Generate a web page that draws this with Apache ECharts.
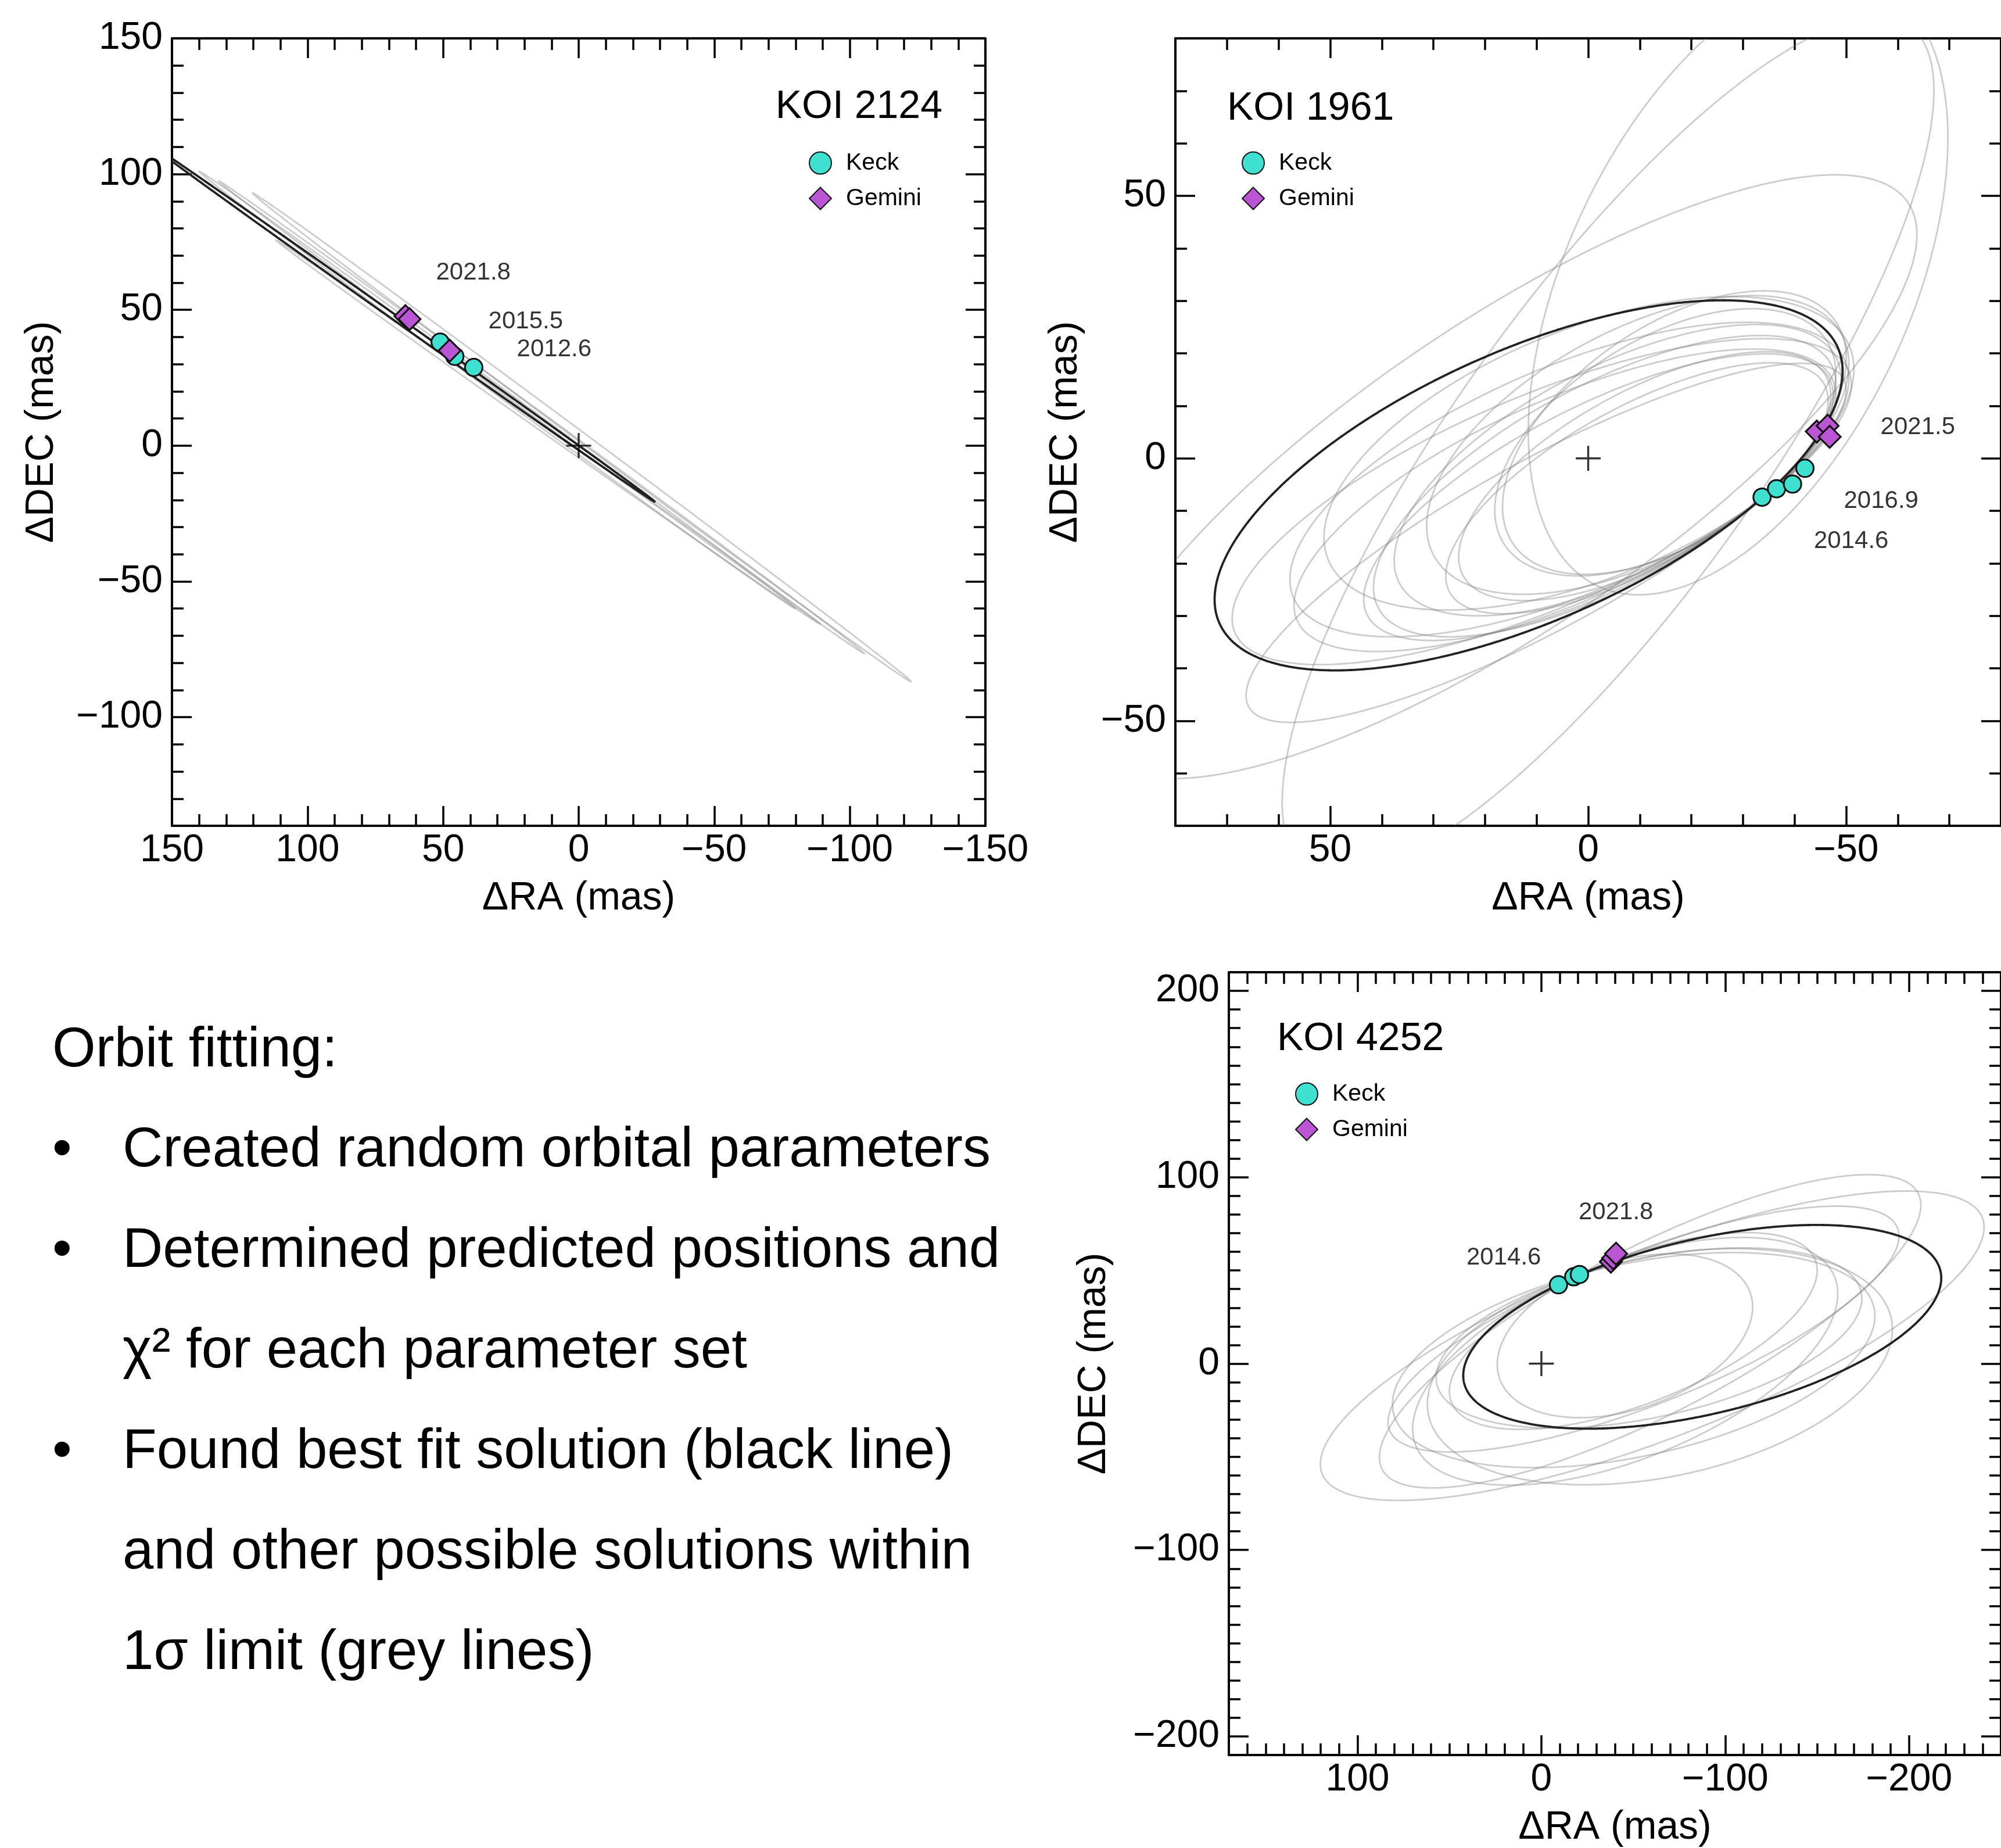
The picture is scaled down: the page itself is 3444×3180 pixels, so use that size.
<!DOCTYPE html>
<html>
<head>
<meta charset="utf-8">
<title>Orbit fitting</title>
<script src="https://cdn.jsdelivr.net/npm/echarts@6/dist/echarts.min.js"></script>
<style>
  html, body { margin: 0; padding: 0; background: #fff; }
  #chart { width: 3444px; height: 3180px; }
</style>
</head>
<body>
<div id="chart"></div>
<script>
// values, in mas
// an orbit is [dRA, dDEC of the max-dRA point, dRA, dDEC of the min-dRA point, max dDEC]

// KOI 2124
var koi2124Best = [[160, 112.3, -28, -20.6, 112.311]];
var koi2124Grey = [
  [120.3, 93.0, -122.6, -86.9, 93.027],
  [132.8, 97.5, -105.4, -76.6, 97.519],
  [111.7, 75.7, -89.1, -65.7, 75.716],
  [140, 101, -80, -60, 101.025]
];
var koi2124Keck = [[51.1, 38.1], [45.7, 32.9], [38.7, 28.8]];
var koi2124Gemini = [[63.9, 47.7], [62.4, 46.6], [47.6, 35.0]];
var koi2124Epochs = [[52.5, 63.6], [33.2, 45.6], [22.7, 35.3]];
var koi2124EpochNames = ['2021.8', '2015.5', '2012.6'];

// KOI 1961
var koi1961Best = [[72.4, -26.9, -49.3, 16.6, 30.1]];
var koi1961Grey = [
  [11.6, 5, -69.7, 61, 92],
  [96.3, -49.6, -63.7, 42.6, 54],
  [59.3, -65.5, -67, 70, 84],
  [69, -30.5, -51, 14, 22.8],
  [66.3, -45.2, -50, 13, 18.1],
  [57.8, -23.1, -50.5, 15, 25.9],
  [57, -28, -48, 12, 20.8],
  [51.2, -15.1, -51.5, 17, 30.8],
  [43.5, -26.8, -47.5, 12, 19.9],
  [41.6, -24.6, -48, 14, 23.4],
  [37.6, -19.5, -49, 15, 25.5],
  [31.3, -12.9, -50.5, 18, 31.0],
  [27.6, -22.4, -46.5, 11, 18.2],
  [25.1, -18.8, -47, 12, 20.3],
  [18.1, -9.9, -48, 16, 28.5],
  [16.6, -9.2, -50, 19, 31.9]
];
var koi1961Keck = [[-33.7, -7.4], [-36.5, -5.8], [-39.6, -4.9], [-42.0, -1.9]];
var koi1961Gemini = [[-44.3, 5.1], [-46.4, 6.2], [-46.8, 4.1]];
var koi1961Epochs = [[-56.7, 5.8], [-49.6, -8.2], [-43.8, -15.9]];
var koi1961EpochNames = ['2021.5', '2016.9', '2014.6'];

// KOI 4252
var koi4252Best = [[42.5, -6.4, -217.5, 45.9, 74.4]];
var koi4252Grey = [
  [120.2, -53.9, -240.8, 73.1, 92.6],
  [88.1, -50.3, -206.4, 85, 101.4],
  [83.4, -31.3, -194.5, 68.4, 84.5],
  [62, -21.8, -190.9, 18.5, 61.7],
  [81, -21.8, -181.4, 25.6, 59.6],
  [57.2, -7.6, -174.3, 35.1, 62.1],
  [70, -35, -161.2, 37.5, 67.7],
  [24, -0.5, -114.9, 30.4, 58.9],
  [50, -15, -150, 50, 70.3]
];
var koi4252Keck = [[-9.3, 42.3], [-17.6, 46.6], [-20.7, 47.8]];
var koi4252Gemini = [[-37.8, 54.7], [-39, 56.6], [-40.6, 59]];
var koi4252Epochs = [[-20.4, 81], [40.6, 56.5]];
var koi4252EpochNames = ['2021.8', '2014.6'];

// axis ranges and tick labels
var xRange2124 = [-150, 150], yRange2124 = [-140, 150];
var xTicks2124 = [-150, -100, -50, 0, 50, 100, 150];
var yTicks2124 = [-100, -50, 0, 50, 100, 150];
var xRange1961 = [-80, 80], yRange1961 = [-70, 80];
var xTicks1961 = [-50, 0, 50];
var yTicks1961 = [-50, 0, 50];
var xRange4252 = [-250, 170], yRange4252 = [-210, 210];
var xTicks4252 = [-200, -100, 0, 100];
var yTicks4252 = [-200, -100, 0, 100, 200];

var noteHeading = 'Orbit fitting:';
var noteBullets = ['\u2022', '\u2022', '', '\u2022', '', ''];
var noteLines = [
  'Created random orbital parameters',
  'Determined predicted positions and',
  '\u03c7\u00b2 for each parameter set',
  'Found best fit solution (black line)',
  'and other possible solutions within',
  '1\u03c3 limit (grey lines)'
];

var FONT = '"Liberation Sans", Arial, sans-serif';
var KECK = '#40E0D0', GEMINI = '#BA55D3';

var chart = echarts.init(document.getElementById('chart'));

function minus(v) { return String(v).replace('-', '\u2212'); }

// one side of a panel: ticks every 10 (short) plus the labelled ticks (long)
function sideAxes(kind, grid, range, majors, name, nameGap, margin) {
  var sides = kind === 'x' ? ['bottom', 'top'] : ['left', 'right'];
  var list = [];
  sides.forEach(function (side, k) {
    var main = k === 0;
    list.push({
      type: 'value', gridIndex: grid, position: side,
      min: range[0], max: range[1], interval: 10, inverse: kind === 'x',
      axisLine: { show: true, onZero: false, lineStyle: { color: '#000', width: 4 } },
      axisTick: { show: true, inside: true, length: 20, lineStyle: { color: '#000', width: 3.5 } },
      axisLabel: main ? {
        show: true, customValues: majors, formatter: minus, margin: margin,
        fontSize: 66, color: '#000', fontFamily: FONT
      } : { show: false },
      splitLine: { show: false },
      name: main ? name : '', nameLocation: 'middle', nameGap: nameGap,
      nameTextStyle: { fontSize: 68, color: '#000', fontFamily: FONT }
    });
    list.push({
      type: 'value', gridIndex: grid, position: side,
      min: range[0], max: range[1], inverse: kind === 'x',
      axisLine: { show: false, onZero: false },
      axisTick: { show: true, inside: true, length: 34, customValues: majors,
        lineStyle: { color: '#000', width: 3.5 } },
      axisLabel: { show: false },
      splitLine: { show: false }
    });
  });
  return list;
}

function orbitItem(stroke, width) {
  return function (params, api) {
    var xA = api.value(0), yA = api.value(1), xB = api.value(2), yB = api.value(3), yTop = api.value(4);
    var cx = (xA + xB) / 2, cy = (yA + yB) / 2, hx = (xA - xB) / 2;
    var yr = yA - cy, ht = yTop - cy;
    var s = Math.sqrt(Math.max(ht * ht - yr * yr, 0));
    var pts = [];
    for (var i = 0; i <= 720; i++) {
      var t = i * Math.PI / 360;
      pts.push(api.coord([cx + hx * Math.cos(t), cy + yr * Math.cos(t) - s * Math.sin(t)]));
    }
    var cs = params.coordSys;
    return {
      type: 'polyline',
      shape: { points: pts },
      style: { stroke: stroke, lineWidth: width, fill: null },
      clipPath: { type: 'rect', shape: { x: cs.x, y: cs.y, width: cs.width, height: cs.height } }
    };
  };
}

function panelSeries(p, best, grey, keck, gemini, epochs, epochNames) {
  var ax = { xAxisIndex: 4 * p, yAxisIndex: 4 * p };
  var dims = ['xa', 'ya', 'xb', 'yb', 'ytop'];
  return [
    Object.assign({ type: 'custom', dimensions: dims, encode: { x: 0, y: 1 },
      renderItem: orbitItem('rgba(128,128,128,0.4)', 2.8), data: grey, z: 1, silent: true }, ax),
    Object.assign({ type: 'custom', dimensions: dims, encode: { x: 0, y: 1 },
      renderItem: orbitItem('#222', 3.8), data: best, z: 2, silent: true }, ax),
    Object.assign({ type: 'scatter', symbol: 'path://M0,46h100v8H0z M46,0h8v100h-8z', symbolSize: 43,
      itemStyle: { color: '#000' }, data: [[0, 0]], z: 3, silent: true }, ax),
    Object.assign({ type: 'scatter', name: 'Keck', symbol: 'circle', symbolSize: 30,
      itemStyle: { color: KECK, borderColor: '#111', borderWidth: 3, opacity: 1 }, data: keck, z: 4 }, ax),
    Object.assign({ type: 'scatter', name: 'Gemini', symbol: 'diamond', symbolSize: 38,
      itemStyle: { color: GEMINI, borderColor: '#111', borderWidth: 3, opacity: 1 }, data: gemini, z: 5 }, ax),
    Object.assign({ type: 'scatter', symbolSize: 1, itemStyle: { color: 'transparent' }, z: 6, silent: true,
      data: epochs.map(function (d, i) { return { value: d, name: epochNames[i] }; }),
      label: { show: true, formatter: '{b}', position: [0, 0], align: 'left', verticalAlign: 'middle',
        fontSize: 42, color: '#000', fontFamily: FONT } }, ax)
  ];
}

// icon centre at cx, first row centre at cy
function legendAt(cx, cy) {
  return {
    orient: 'vertical', left: cx - 19, top: cy - 20, padding: 0,
    itemWidth: 38, itemHeight: 38, itemGap: 20, selectedMode: false, symbolKeepAspect: true,
    data: ['Keck', 'Gemini'],
    textStyle: { fontSize: 41, color: '#000', fontFamily: FONT, padding: [0, 0, 0, 20] }
  };
}

var graphics = [{
  type: 'text', x: 90, y: 1809,
  style: { text: noteHeading, fontSize: 96, fontFamily: FONT, fill: '#000', verticalAlign: 'middle' }
}];
noteLines.forEach(function (line, i) {
  var y = 1981 + i * 173;
  if (noteBullets[i]) {
    graphics.push({ type: 'text', x: 90, y: y,
      style: { text: noteBullets[i], fontSize: 96, fontFamily: FONT, fill: '#000', verticalAlign: 'middle' } });
  }
  graphics.push({ type: 'text', x: 211, y: y,
    style: { text: line, fontSize: 96, fontFamily: FONT, fill: '#000', verticalAlign: 'middle' } });
});

var option = {
  animation: false,
  backgroundColor: '#fff',
  textStyle: { fontFamily: FONT },
  title: [
    { text: 'KOI 2124', right: 3444 - 1622, top: 150, padding: 0,
      textStyle: { fontSize: 68, fontWeight: 'normal', color: '#000', fontFamily: FONT } },
    { text: 'KOI 1961', left: 2112, top: 153, padding: 0,
      textStyle: { fontSize: 68, fontWeight: 'normal', color: '#000', fontFamily: FONT } },
    { text: 'KOI 4252', left: 2198, top: 1754, padding: 0,
      textStyle: { fontSize: 68, fontWeight: 'normal', color: '#000', fontFamily: FONT } }
  ],
  legend: [legendAt(1411, 280), legendAt(2156, 280), legendAt(2248, 1882)],
  grid: [
    { left: 296, top: 66, width: 1400, height: 1355 },
    { left: 2023, top: 66, width: 1441, height: 1355 },
    { left: 2115, top: 1673, width: 1349, height: 1347 }
  ],
  xAxis: [].concat(
    sideAxes('x', 0, xRange2124, xTicks2124, '\u0394RA (mas)', 91, 10),
    sideAxes('x', 1, xRange1961, xTicks1961, '\u0394RA (mas)', 91, 10),
    sideAxes('x', 2, xRange4252, xTicks4252, '\u0394RA (mas)', 91, 10)
  ),
  yAxis: [].concat(
    sideAxes('y', 0, yRange2124, yTicks2124, '\u0394DEC (mas)', 190, 16),
    sideAxes('y', 1, yRange1961, yTicks1961, '\u0394DEC (mas)', 155, 16),
    sideAxes('y', 2, yRange4252, yTicks4252, '\u0394DEC (mas)', 198, 16)
  ),
  series: [].concat(
    panelSeries(0, koi2124Best, koi2124Grey, koi2124Keck, koi2124Gemini, koi2124Epochs, koi2124EpochNames),
    panelSeries(1, koi1961Best, koi1961Grey, koi1961Keck, koi1961Gemini, koi1961Epochs, koi1961EpochNames),
    panelSeries(2, koi4252Best, koi4252Grey, koi4252Keck, koi4252Gemini, koi4252Epochs, koi4252EpochNames)
  ),
  graphic: graphics
};

chart.setOption(option);
</script>
</body>
</html>
